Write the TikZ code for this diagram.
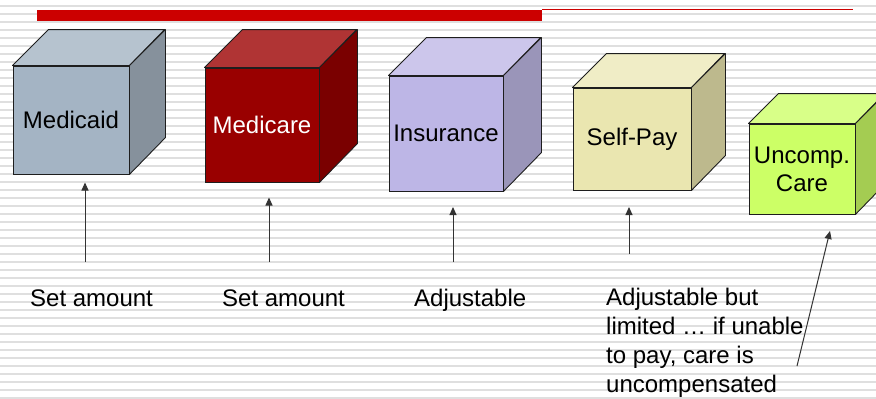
\documentclass[tikz,border=0pt]{standalone}
\usepackage{fontspec}
\setmainfont{Liberation Sans}
\usetikzlibrary{arrows.meta}
\definecolor{caidF}{HTML}{A4B4C4}\definecolor{caidT}{HTML}{B6C3CF}\definecolor{caidS}{HTML}{86919C}
\definecolor{careF}{HTML}{990000}\definecolor{careT}{HTML}{B03434}\definecolor{careS}{HTML}{7A0000}
\definecolor{insF}{HTML}{BDB6E6}\definecolor{insT}{HTML}{CCC6EB}\definecolor{insS}{HTML}{9A95B9}
\definecolor{selfF}{HTML}{EAE6B0}\definecolor{selfT}{HTML}{F0EDC6}\definecolor{selfS}{HTML}{BDB98D}
\definecolor{uncF}{HTML}{CCFF66}\definecolor{uncT}{HTML}{D8FF88}\definecolor{uncS}{HTML}{A4CC52}
\definecolor{barred}{HTML}{CC0000}
\definecolor{stripegray}{HTML}{DFDFDF}
\definecolor{edgegray}{HTML}{1E1E1E}
\definecolor{arrowgray}{HTML}{333333}
\newcommand\mkcube[9]{%
  \node[cubefront, fill=#7F, minimum width=#4pt, minimum height=#5pt, #9] (#1) at (#2,#3) {#8};
  \draw[cubeedge, fill=#7T] (#1.north west) -- ++(#6,-#6) -- ++(#4,0) -- (#1.north east) -- cycle;
  \draw[cubeedge, fill=#7S] (#1.north east) -- ++(#6,-#6) -- ++(0,#5) -- (#1.south east) -- cycle;
}
\begin{document}
\begin{tikzpicture}[x=1pt,y=-1pt,
  stripe/.style={draw=stripegray, line width=1.7pt},
  cubefront/.style={draw=edgegray, line width=0.9pt, inner sep=0pt, align=center,
    font=\fontsize{24}{28}\selectfont},
  cubeedge/.style={draw=edgegray, line width=0.9pt, line join=round},
  tipstyle/.tip={Triangle[length=8pt,width=7pt]},
  conn/.style={draw=arrowgray, line width=1pt, -tipstyle},
  lbl/.style={inner sep=0pt, anchor=base west, font=\fontsize{24}{28.7}\selectfont}]
\useasboundingbox (0,0) rectangle (876,399);
\clip (0,0) rectangle (876,399);
\fill[white] (0,0) rectangle (876,399);
\foreach \y in {6,14,...,398} \draw[stripe] (0,\y) -- (876,\y);
% top bar
\fill[barred] (37,9.5) rectangle (542,21);
\draw[barred, line width=1.1pt] (542,9.6) -- (853,9.6);
% cubes
\mkcube{medicaid}{71}{120}{116}{108}{36}{caid}{Medicaid}{}
\mkcube{medicare}{262}{125}{114}{114}{38}{care}{Medicare}{text=white}
\mkcube{insurance}{446}{133.5}{114}{115}{38}{ins}{Insurance}{}
\mkcube{selfpay}{632}{139}{118}{102}{34}{self}{Self-Pay}{}
\mkcube{uncomp}{802}{169}{106}{90}{30}{unc}{Uncomp.\\Care}{}
% labels
\node[lbl] (l1) at (30,306) {Set amount};
\node[lbl] (l2) at (222,306) {Set amount};
\node[lbl] (l3) at (414,306) {Adjustable};
\node[lbl, align=left] (l4) at (606,392) {Adjustable but\\limited \dots\ if unable\\to pay, care is\\uncompensated};
% arrows
\coordinate (t1) at (85,262); \coordinate (h1) at (85,182.5);
\coordinate (t2) at (269,262); \coordinate (h2) at (269,197.5);
\coordinate (t3) at (453,262); \coordinate (h3) at (453,207);
\coordinate (t4) at (629,253.5); \coordinate (h4) at (629,207);
\coordinate (t5) at (797,366); \coordinate (h5) at (830,231);
\draw[conn] (t1) -- (h1);
\draw[conn] (t2) -- (h2);
\draw[conn] (t3) -- (h3);
\draw[conn] (t4) -- (h4);
\draw[conn] (t5) -- (h5);
\end{tikzpicture}
\end{document}
